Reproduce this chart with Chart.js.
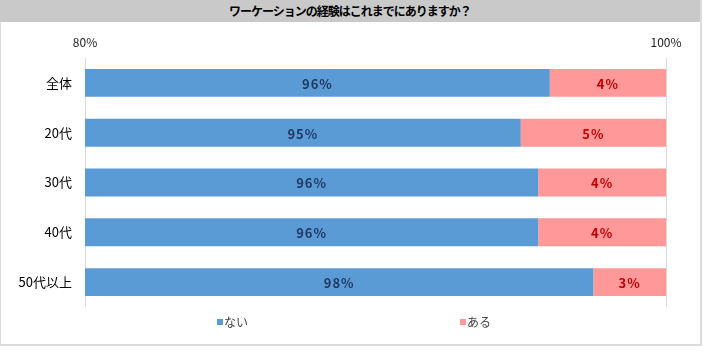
<!DOCTYPE html>
<html lang="ja">
<head>
<meta charset="utf-8">
<title>ワーケーションの経験はこれまでにありますか？</title>
<script src="https://cdn.jsdelivr.net/npm/chart.js@4.4.0/dist/chart.umd.min.js"></script>
<style>
  body { margin: 0; background: #fff; font-family: "Noto Sans CJK JP", sans-serif; }
  #frame { position: absolute; left: 0; top: 0; width: 702px; height: 346px; box-sizing: border-box;
           border: solid #dcdcdc; border-width: 1px 2px 2px 1px; }
  #title { position: absolute; left: 0; top: 0; width: 700px; height: 22px; line-height: 22px;
           background: #c9c9c9; text-align: center; font-weight: bold; font-size: 12px;
           letter-spacing: -1px; color: #000; }
  #box { position: absolute; left: 0; top: 22px; width: 704px; height: 332px; }
</style>
</head>
<body>
<div id="frame"></div>
<div id="title">ワーケーションの経験はこれまでにありますか？</div>
<div id="box"><canvas id="chart"></canvas></div>
<script>
  // data
  var categories = ["全体", "20代", "30代", "40代", "50代以上"];
  var seriesNames = ["ない", "ある"];
  var naiValues = [96.0, 95.0, 95.6, 95.6, 97.5];
  var aruValues = [4.0, 5.0, 4.4, 4.4, 2.5];
  var naiLabels = ["96%", "95%", "96%", "96%", "98%"];
  var aruLabels = ["4%", "5%", "4%", "4%", "3%"];
  var axisTicks = [80, 100];

  var fontName = "'Noto Sans CJK JP', sans-serif";

  // value labels centred in the visible part of each bar
  var barLabels = {
    id: "barLabels",
    afterDatasetsDraw: function (chart) {
      var ctx = chart.ctx;
      var area = chart.chartArea;
      ctx.save();
      ctx.font = "bold 13px " + fontName;
      ctx.letterSpacing = "1px";
      ctx.textAlign = "center";
      ctx.textBaseline = "middle";
      chart.data.datasets.forEach(function (ds, i) {
        chart.getDatasetMeta(i).data.forEach(function (bar, j) {
          var left = Math.max(Math.min(bar.x, bar.base), area.left);
          var right = Math.min(Math.max(bar.x, bar.base), area.right);
          ctx.fillStyle = ds.labelColor;
          ctx.fillText(ds.valueLabels[j], (left + right) / 2, bar.y + 1);
        });
      });
      ctx.restore();
    }
  };

  // spread-out legend like the original
  var spreadLegend = {
    id: "spreadLegend",
    afterDraw: function (chart, args, opts) {
      var ctx = chart.ctx;
      ctx.save();
      ctx.font = "12px " + fontName;
      ctx.textBaseline = "middle";
      chart.data.datasets.forEach(function (ds, i) {
        var x = opts.xs[i];
        ctx.fillStyle = ds.backgroundColor;
        ctx.fillRect(x, opts.y - 3, 6, 6);
        ctx.fillStyle = "#404040";
        ctx.fillText(ds.label, x + 7, opts.y);
      });
      ctx.restore();
    }
  };

  var ctx = document.getElementById("chart").getContext("2d");
  var myChart = new Chart(ctx, {
    type: "bar",
    data: {
      labels: categories,
      datasets: [
        {
          label: seriesNames[0],
          data: naiValues,
          backgroundColor: "#5b9bd5",
          labelColor: "#1f3864",
          valueLabels: naiLabels,
          barPercentage: 0.56,
          categoryPercentage: 1
        },
        {
          label: seriesNames[1],
          data: aruValues,
          backgroundColor: "#ff9999",
          labelColor: "#c00000",
          valueLabels: aruLabels,
          barPercentage: 0.56,
          categoryPercentage: 1
        }
      ]
    },
    options: {
      indexAxis: "y",
      responsive: true,
      maintainAspectRatio: false,
      animation: false,
      layout: { padding: { left: 0, right: 38, top: 0, bottom: 47 } },
      scales: {
        x: {
          position: "top",
          stacked: true,
          min: 80,
          max: 100,
          afterBuildTicks: function (scale) {
            scale.ticks = axisTicks.map(function (v) { return { value: v }; });
          },
          afterFit: function (scale) { scale.height = 36; },
          border: { display: false },
          grid: { color: "#d9d9d9", drawTicks: false },
          ticks: {
            padding: 8,
            color: "#222",
            font: { size: 12, family: fontName },
            callback: function (v) { return v + "%"; }
          }
        },
        y: {
          stacked: true,
          afterFit: function (scale) { scale.width = 85; },
          border: { display: false },
          grid: { display: false, drawTicks: false },
          ticks: {
            padding: 13,
            color: "#000",
            font: { size: 13, family: fontName }
          }
        }
      },
      plugins: {
        legend: { display: false },
        tooltip: { enabled: false },
        spreadLegend: { xs: [217, 460], y: 300 }
      }
    },
    plugins: [barLabels, spreadLegend]
  });
</script>
</body>
</html>
